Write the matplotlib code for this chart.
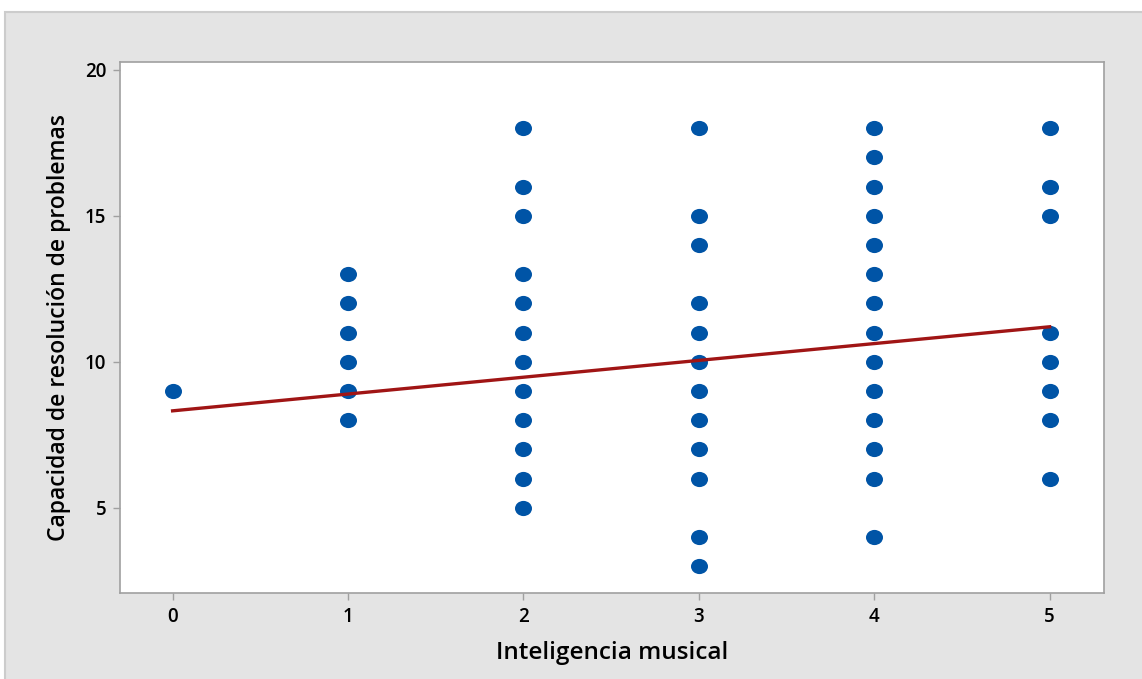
import numpy as np
import matplotlib.pyplot as plt
from matplotlib.path import Path
from matplotlib.patches import Rectangle
from matplotlib.markers import MarkerStyle
from matplotlib.transforms import Affine2D

# --------------------------
# 数据
# --------------------------
x_vals = [0,
          1, 1, 1, 1, 1, 1,
          2, 2, 2, 2, 2, 2, 2, 2, 2, 2, 2, 2,
          3, 3, 3, 3, 3, 3, 3, 3, 3, 3, 3, 3,
          4, 4, 4, 4, 4, 4, 4, 4, 4, 4, 4, 4, 4, 4,
          5, 5, 5, 5, 5, 5, 5, 5]
y_vals = [9,
          13, 12, 11, 10, 9, 8,
          18, 16, 15, 13, 12, 11, 10, 9, 8, 7, 6, 5,
          18, 15, 14, 12, 11, 10, 9, 8, 7, 6, 4, 3,
          18, 17, 16, 15, 14, 13, 12, 11, 10, 9, 8, 7, 6, 4,
          18, 16, 15, 11, 10, 9, 8, 6]
fit_intercept = 8.32
fit_slope = 0.576
x_ticks = [0, 1, 2, 3, 4, 5]
y_ticks = [5, 10, 15, 20]

font = ['Open Sans', 'DejaVu Sans']
plt.rcParams['font.family'] = font

fig = plt.figure(figsize=(11.42, 6.79), dpi=100)
fig.patch.set_facecolor('white')
# 灰色背景框
bg = Rectangle((5 / 1142, -0.01), 1, 1.01 - 12 / 679, transform=fig.transFigure,
               facecolor='#e4e4e4', edgecolor='#cccccc', linewidth=1.5, zorder=-10)
fig.add_artist(bg)

ax = fig.add_axes([120 / 1142, 86 / 679, 984 / 1142, 531 / 679])
ax.set_zorder(1)
ax.set_facecolor('white')

# 椭圆形标记
ellipse = Path.unit_circle().transformed(Affine2D().scale(1.12, 1.0))
ax.scatter(x_vals, y_vals, s=150, marker=MarkerStyle(ellipse), color='#0054a6',
           linewidths=0, zorder=3)

xs = np.array([0, 5])
ax.plot(xs, fit_intercept + fit_slope * xs, color='#a01515', linewidth=2.4, zorder=4)

ax.set_xlim(-0.30, 5.31)
ax.set_ylim(2.08, 20.27)
ax.set_xticks(x_ticks)
ax.set_yticks(y_ticks)
for s in ax.spines.values():
    s.set_color('#a0a0a0')
    s.set_linewidth(1.2)
ax.tick_params(colors='#a0a0a0', length=5, width=1, labelcolor='black', labelsize=13.5, pad=5)
for lab in ax.get_xticklabels() + ax.get_yticklabels():
    lab.set_fontweight('semibold')

ax.set_xlabel('Inteligencia musical', fontsize=17.5, fontweight='semibold', labelpad=10)
ax.set_ylabel('Capacidad de resolución de problemas', fontsize=16.5, fontweight='semibold', labelpad=10)

fig.savefig('out.png', dpi=100)
